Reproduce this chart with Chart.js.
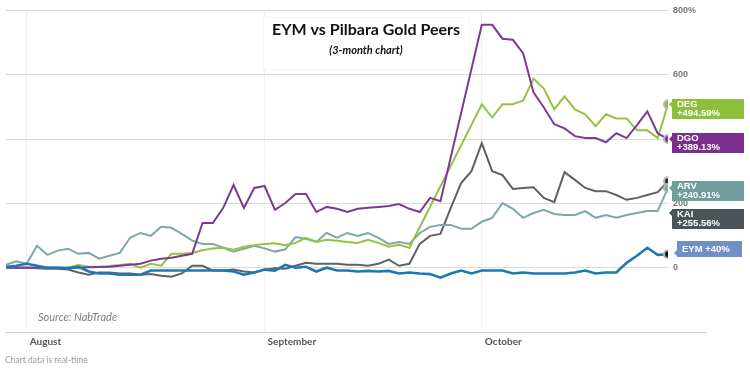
<!DOCTYPE html>
<html>
<head>
<meta charset="utf-8">
<script src="https://cdn.jsdelivr.net/npm/chart.js@4.4.0/dist/chart.umd.min.js"></script>
<style>
  html, body { margin: 0; padding: 0; background: #fff; }
  #wrap { position: relative; width: 750px; height: 370px; }
</style>
</head>
<body>
<div id="wrap"><canvas id="chart" width="750" height="370"></canvas></div>
<script>
// % change since start of the period, one value per trading day
// (null = no trade that day, the line just joins across)
const EYM = [3, 6, 12, 6, 0, 0, -3, 3, -12, -18, -18, -22, -22, -22, -9, -9, -9, -9, -9, -9,
  -9, -9, -12, -22, -15, -6, -9, 9, 0, 3, -12, 0, -9, -9, -12, -10, -12, -10, -18, -15,
  -18, -20, -31, -18, -9, -18, -9, -9, -9, -18, -15, -18, -18, -18, -18, -15, -9, -18, -15, -15,
  15, 37, 62, 40, 42];
const DGO = [0, 0, 0, 0, 0, 0, 0, 0, 1, 2, 3, 6, 9, 12, 22, 28, 31, 37, 43, 139,
  139, 186, 257, 186, 248, 254, 180, 201, 229, 229, 173, 189, 183, 173, 183, 186, 189, 192, 198, 183,
  173, 217, 207, null, null, null, 755, 755, 712, 709, 666, 545, 498, 446, 433, 409, 403, 403, 390, 418,
  403, 443, 486, 418, 400];
const DEG = [0, 0, 0, 0, 0, 0, 0, 8, 3, 3, 5, 8, 12, 0, 12, 6, 43, 43, 46, 54,
  60, 62, 56, 65, 70, 74, 76, 70, 77, 93, 80, 87, 84, 80, 77, 87, 77, 65, 71, 62,
  null, null, null, null, null, null, 508, 467, 508, 508, 520, 588, 557, 492, 533, 492, 477, 440, 477, 464,
  464, 427, 427, 403, 508];
const ARV = [9, 20, 12, 68, 40, 53, 59, 43, 46, 28, 37, 46, 93, 108, 99, 127, 124, 105, 84, 74,
  74, 62, 50, 59, 68, 60, 50, 57, 95, 90, 80, 108, 93, 108, 99, 108, 93, 74, 80, 74,
  108, 127, 133, 133, 121, 121, 143, 155, 201, 183, 155, 170, 180, 167, 164, 164, 176, 155, 164, 155,
  164, 170, 176, 176, 248];
const KAI = [0, 0, 0, -2, -3, -3, -6, -15, -22, -15, -15, -18, -18, -22, -20, -25, -28, -18, 6, 6,
  -9, -9, -6, -12, -15, -6, -2, -3, 6, 15, 12, 12, 12, 9, 9, 6, 12, 25, 6, 12,
  74, 99, 105, 186, 263, 300, 387, 300, 288, 245, 248, 250, 217, 204, 297, 273, 248, 238, 238, 226,
  211, 217, 226, 235, 269];

const monthNames = ['August', 'September', 'October'];
const monthStarts = [2, 25, 46];   // first trading day of each month
const flagLines = {
  EYM: ['EYM +40%'],
  DGO: ['DGO', '+389.13%'],
  DEG: ['DEG', '+494.59%'],
  ARV: ['ARV', '+240.91%'],
  KAI: ['KAI', '+255.56%']
};

const days = EYM.map((_, i) => i);

// line colour, flag colour, where the flag sits against the last point
const style = {
  EYM: { line: '#1c79b1', flag: '#6f8fc9', width: 2.6, dot: '#111', top: -13 },
  DGO: { line: '#7b3a95', flag: '#7a2f8e', width: 2, dot: '#7b3a95', top: -6 },
  DEG: { line: '#95c241', flag: '#8cbf3c', width: 2, dot: '#95c241', top: -5 },
  ARV: { line: '#7ea7a9', flag: '#6f9d9e', width: 2, dot: '#7ea7a9', top: -7 },
  KAI: { line: '#5d6266', flag: '#4a5359', width: 2, dot: '#333', top: 28 }
};

const series = { EYM, DGO, DEG, ARV, KAI };

const datasets = Object.keys(series).map(name => {
  const s = style[name];
  const last = series[name].length - 1;
  return {
    label: name,
    data: series[name],
    borderColor: s.line,
    borderWidth: s.width,
    tension: 0,
    spanGaps: true,
    pointRadius: ctx => ctx.dataIndex === last ? 4 : 0,
    pointHoverRadius: 0,
    pointBackgroundColor: s.dot,
    pointBorderColor: '#b5b5b5',
    pointBorderWidth: 2
  };
});

const overlay = {
  id: 'overlay',
  afterDraw(chart) {
    const { ctx, chartArea: area } = chart;
    ctx.save();

    // base line under the month labels
    ctx.strokeStyle = '#cfcfcf';
    ctx.lineWidth = 1;
    ctx.beginPath();
    ctx.moveTo(area.left - 1, area.bottom + 0.5);
    ctx.lineTo(area.right + 39, area.bottom + 0.5);
    ctx.stroke();

    // title box
    const cx = 366;
    ctx.fillStyle = '#fff';
    ctx.strokeStyle = '#f7f7f7';
    ctx.fillRect(263, 17, 206, 52);
    ctx.strokeRect(263.5, 17.5, 206, 52);
    ctx.fillStyle = '#111';
    ctx.textAlign = 'center';
    ctx.textBaseline = 'alphabetic';
    ctx.font = 'bold 16px Lato';
    ctx.fillText('EYM vs Pilbara Gold Peers', cx, 35);
    ctx.font = 'italic bold 11px Lato';
    ctx.fillText('(3-month chart)', cx, 54);

    ctx.textAlign = 'left';
    ctx.fillStyle = '#808080';
    ctx.font = 'italic 11px Lato';
    ctx.fillText('Source: NabTrade', 38, 321);
    ctx.fillStyle = '#9a9a9a';
    ctx.font = '8.5px Lato';
    ctx.fillText('Chart data is real-time', 5, 363);

    // end-of-line flags
    chart.data.datasets.forEach((ds, i) => {
      const meta = chart.getDatasetMeta(i);
      const pt = meta.data[meta.data.length - 1];
      const s = style[ds.label];
      const lines = flagLines[ds.label];
      const h = lines.length === 2 ? 20 : 16;
      const x = area.right + 4;
      const top = Math.round(pt.y + s.top);
      const w = lines.length === 2 ? 72 : 65;
      const bx = lines.length === 2 ? x : x + 5;
      ctx.fillStyle = s.flag;
      ctx.fillRect(bx, top, w, h);
      const ny = Math.min(Math.max(pt.y, top + 4), top + h - 4);
      ctx.beginPath();
      ctx.moveTo(bx, ny - 3);
      ctx.lineTo(bx - 3, ny);
      ctx.lineTo(bx, ny + 3);
      ctx.closePath();
      ctx.fill();
      ctx.fillStyle = '#fff';
      ctx.font = 'bold 9.5px "Liberation Sans"';
      ctx.textBaseline = 'middle';
      if (lines.length === 2) {
        ctx.fillText(lines[0], bx + 5, top + 5.5);
        ctx.fillText(lines[1], bx + 5, top + 14.5);
      } else {
        ctx.fillText(lines[0], bx + 5, top + h / 2 + 0.5);
      }
    });
    ctx.restore();
  }
};

new Chart(document.getElementById('chart').getContext('2d'), {
  type: 'line',
  data: { labels: days, datasets: datasets },
  options: {
    responsive: false,
    animation: false,
    events: [],
    layout: { padding: { left: 6, top: 9, right: 0, bottom: 0 } },
    plugins: { legend: { display: false }, tooltip: { enabled: false } },
    scales: {
      x: {
        type: 'linear',
        min: 0,
        max: days.length - 1,
        afterBuildTicks: scale => { scale.ticks = monthStarts.map(v => ({ value: v })); },
        afterFit: scale => { scale.height = 38; },
        grid: { color: '#efefef', drawTicks: false },
        border: { display: false },
        ticks: {
          autoSkip: false,
          maxRotation: 0,
          align: 'start',
          labelOffset: 3,
          padding: 4,
          color: '#555',
          font: { family: 'Lato', size: 10, weight: 'bold' },
          callback: v => monthNames[monthStarts.indexOf(v)]
        }
      },
      y: {
        position: 'right',
        min: -200,
        max: 800,
        afterFit: scale => { scale.width = 82; },
        grid: {
          color: ctx => ctx.tick && ctx.tick.value < 0 ? 'rgba(0,0,0,0)' : '#dadada',
          drawTicks: false
        },
        border: { display: false },
        ticks: {
          stepSize: 200,
          padding: 5,
          color: '#777',
          font: { family: 'Liberation Sans', size: 9, weight: 'bold' },
          callback: v => v < 0 ? '' : (v === 800 ? '800%' : v)
        }
      }
    }
  },
  plugins: [overlay]
});
</script>
</body>
</html>
